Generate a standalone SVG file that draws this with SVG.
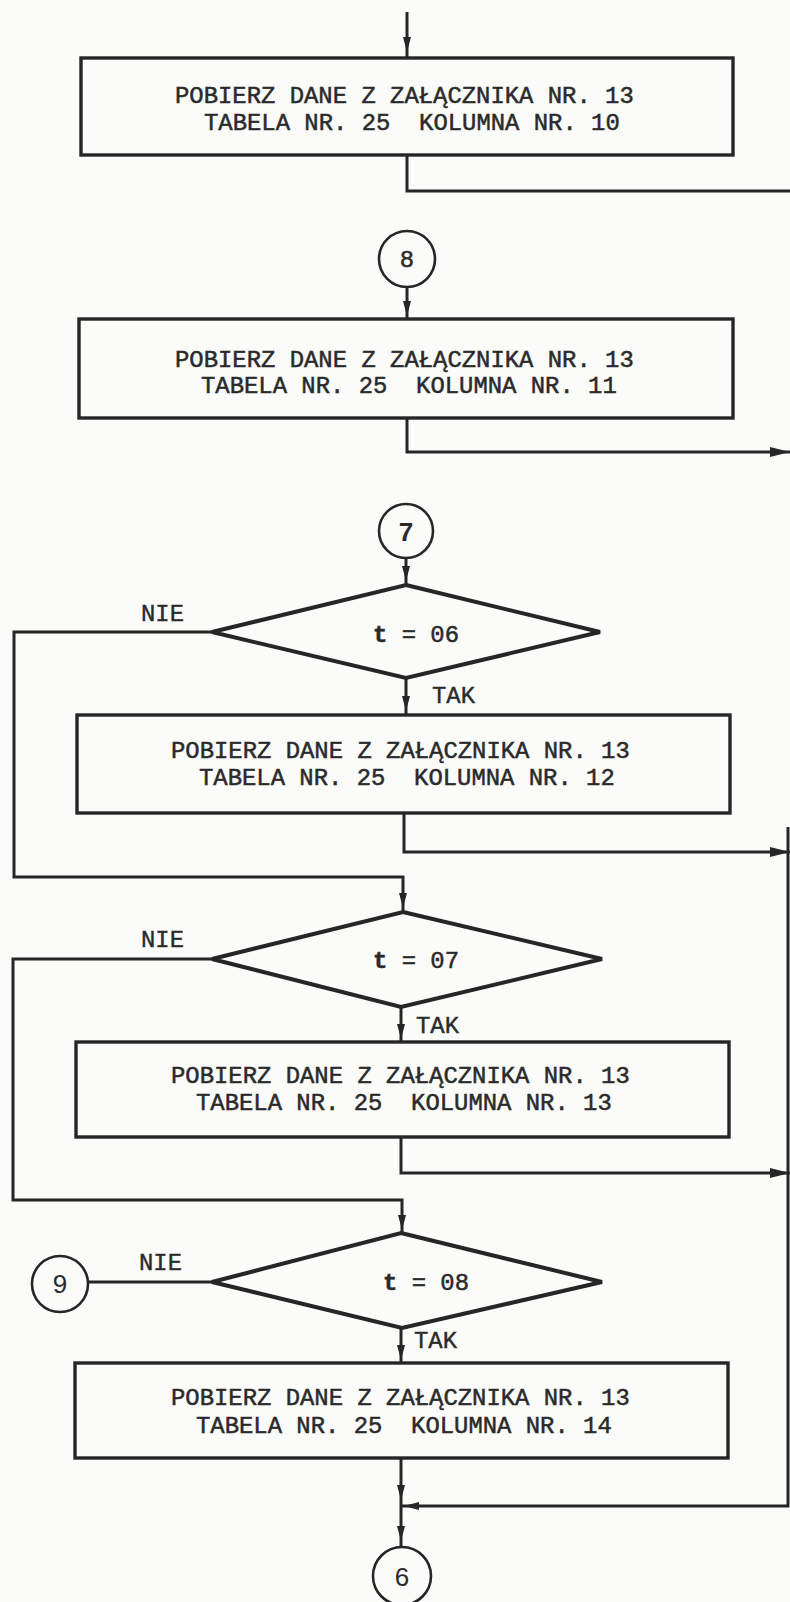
<svg xmlns="http://www.w3.org/2000/svg" xmlns:xlink="http://www.w3.org/1999/xlink" width="790" height="1602" viewBox="0 0 790 1602">
<style>
.box{fill:none;stroke:#262626;stroke-width:3.4}
.dia{fill:none;stroke:#262626;stroke-width:4;stroke-linejoin:miter}
.circ{fill:none;stroke:#262626;stroke-width:2.6}
.ln{fill:none;stroke:#262626;stroke-width:3}
.ah{fill:#262626}
.t{font-family:"Liberation Mono",monospace;font-size:23.9px;fill:#2a2a2a;stroke:#2a2a2a;stroke-width:0.5}
.lbl{font-family:"Liberation Mono",monospace;font-size:23.9px;fill:#2a2a2a;stroke:#2a2a2a;stroke-width:0.4}
.num{font-family:"Liberation Sans",sans-serif;font-size:26px;fill:#2a2a2a;text-anchor:middle}
</style>
<defs>
<path id="ad" d="M0,0 L-4,-15 L4,-15 Z"/>
<path id="ar" d="M0,0 L-20,-5 L-20,5 Z"/>
</defs>
<rect x="0" y="0" width="790" height="1602" fill="#fbfbfa"/>

<g id="connectors">
<path class="ln" d="M407,12 V58"/>
<use href="#ad" class="ah" transform="translate(407,52)"/>
<path class="ln" d="M407,155 V191 H790"/>
<path class="ln" d="M407,288 V319"/>
<use href="#ad" class="ah" transform="translate(407,316)"/>
<path class="ln" d="M407,418 V452 H790"/>
<use href="#ar" class="ah" transform="translate(790,452)"/>
<path class="ln" d="M406,558 V585"/>
<use href="#ad" class="ah" transform="translate(406,581)"/>
<path class="ln" d="M406,678 V715"/>
<use href="#ad" class="ah" transform="translate(406,711)"/>
<path class="ln" d="M404,813 V852 H790"/>
<use href="#ar" class="ah" transform="translate(790,852)"/>
<path class="ln" d="M212,632 H14 V877 H403 V912"/>
<use href="#ad" class="ah" transform="translate(403,908)"/>
<path class="ln" d="M401,1007 V1042"/>
<use href="#ad" class="ah" transform="translate(401,1039)"/>
<path class="ln" d="M401,1137 V1173 H790"/>
<use href="#ar" class="ah" transform="translate(790,1173)"/>
<path class="ln" d="M212,959 H13 V1200 H402 V1233"/>
<use href="#ad" class="ah" transform="translate(402,1230)"/>
<path class="ln" d="M88,1282 H212"/>
<path class="ln" d="M401,1328 V1363"/>
<use href="#ad" class="ah" transform="translate(401,1360)"/>
<path class="ln" d="M401,1458 V1547"/>
<use href="#ad" class="ah" transform="translate(401,1500)"/>
<use href="#ad" class="ah" transform="translate(401,1541)"/>
<path class="ln" d="M788,827 V1506 H401"/>
<use href="#ad" class="ah" transform="translate(404,1506) rotate(90)"/>
</g>

<g id="box1">
<rect class="box" x="81" y="58" width="652" height="97"/>
<text class="t" x="175" y="103">POBIERZ DANE Z ZAŁĄCZNIKA NR. 13</text>
<text class="t" x="204" y="130" xml:space="preserve">TABELA NR. 25  KOLUMNA NR. 10</text>
</g>

<g id="conn8">
<circle class="circ" cx="407" cy="259" r="28"/>
<text class="t" x="407" y="267" text-anchor="middle">8</text>
</g>

<g id="box2">
<rect class="box" x="79" y="319" width="654" height="99"/>
<text class="t" x="175" y="367">POBIERZ DANE Z ZAŁĄCZNIKA NR. 13</text>
<text class="t" x="201" y="393" xml:space="preserve">TABELA NR. 25  KOLUMNA NR. 11</text>
</g>

<g id="conn7">
<circle class="circ" cx="406" cy="531" r="27"/>
<text class="num" x="406" y="541" font-weight="bold">7</text>
</g>

<g id="dec1">
<polygon class="dia" points="406,585 600,632 406,678 212,632"/>
<text class="t" x="373" y="642"><tspan font-weight="bold">t</tspan> = 06</text>
<text class="lbl" x="141" y="621">NIE</text>
<text class="lbl" x="432" y="703">TAK</text>
</g>

<g id="box3">
<rect class="box" x="77" y="715" width="653" height="98"/>
<text class="t" x="171" y="758">POBIERZ DANE Z ZAŁĄCZNIKA NR. 13</text>
<text class="t" x="199" y="785" xml:space="preserve">TABELA NR. 25  KOLUMNA NR. 12</text>
</g>

<g id="dec2">
<polygon class="dia" points="403,912 602,959 401,1007 212,959"/>
<text class="t" x="373" y="968"><tspan font-weight="bold">t</tspan> = 07</text>
<text class="lbl" x="141" y="947">NIE</text>
<text class="lbl" x="416" y="1033">TAK</text>
</g>

<g id="box4">
<rect class="box" x="76" y="1042" width="653" height="95"/>
<text class="t" x="171" y="1083">POBIERZ DANE Z ZAŁĄCZNIKA NR. 13</text>
<text class="t" x="196" y="1110" xml:space="preserve">TABELA NR. 25  KOLUMNA NR. 13</text>
</g>

<g id="dec3">
<polygon class="dia" points="401,1233 602,1282 402,1328 212,1282"/>
<text class="t" x="383" y="1290"><tspan font-weight="bold">t</tspan> = 08</text>
<text class="lbl" x="139" y="1270">NIE</text>
<text class="lbl" x="414" y="1348">TAK</text>
</g>

<g id="conn9">
<circle class="circ" cx="60" cy="1284" r="28"/>
<text class="num" x="60" y="1293">9</text>
</g>

<g id="box5">
<rect class="box" x="75" y="1363" width="653" height="95"/>
<text class="t" x="171" y="1405">POBIERZ DANE Z ZAŁĄCZNIKA NR. 13</text>
<text class="t" x="196" y="1433" xml:space="preserve">TABELA NR. 25  KOLUMNA NR. 14</text>
</g>

<g id="conn6">
<circle class="circ" cx="402" cy="1576" r="29"/>
<text class="num" x="402" y="1586">6</text>
</g>
</svg>
